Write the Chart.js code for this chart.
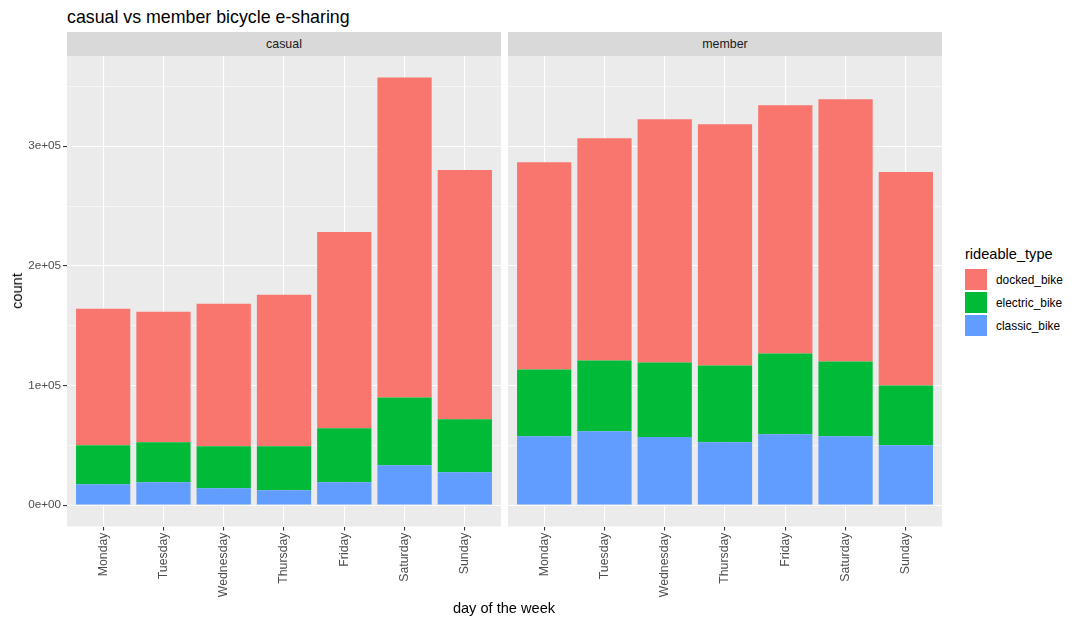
<!DOCTYPE html>
<html>
<head>
<meta charset="utf-8">
<script src="https://cdn.jsdelivr.net/npm/chart.js@4.4.1/dist/chart.umd.min.js"></script>
<style>
  body { margin: 0; background: #fff; font-family: "Liberation Sans", Arial, sans-serif; }
  #wrap { position: relative; width: 1080px; height: 625px; overflow: hidden; }
  .abs { position: absolute; }
  .strip { background: #D9D9D9; color: #1A1A1A; font-size: 12.4px; text-align: center; line-height: 24px; height: 24px; top: 32px; }
  .key { width: 22px; height: 21px; left: 965px; }
  .klab { left: 996px; font-size: 11.9px; color: #000; line-height: 14px; }
</style>
</head>
<body>
<div id="wrap">
  <div class="abs" style="left:67px;top:7px;font-size:17.8px;color:#000;">casual vs member bicycle e-sharing</div>
  <div class="abs strip" style="left:67px;width:434px;">casual</div>
  <div class="abs strip" style="left:508px;width:434px;">member</div>

  <div class="abs" style="left:0;top:56px;width:501px;height:569px;"><canvas id="casualChart"></canvas></div>
  <div class="abs" style="left:508px;top:56px;width:434px;height:569px;"><canvas id="memberChart"></canvas></div>

  <div class="abs" style="left:17px;top:291px;font-size:14.6px;color:#000;transform:translate(-50%,-50%) rotate(-90deg);white-space:nowrap;">count</div>
  <div class="abs" style="left:504px;top:600px;font-size:14.6px;color:#000;transform:translateX(-50%);white-space:nowrap;">day of the week</div>

  <div class="abs" style="left:965px;top:246px;font-size:14.6px;color:#000;">rideable_type</div>
  <div id="legend"></div>
</div>

<script>
const days = ['Monday', 'Tuesday', 'Wednesday', 'Thursday', 'Friday', 'Saturday', 'Sunday'];

// stacked totals, split per rideable type
const casualClassic  = [17500, 19167, 14167, 12500, 19167, 33333, 27500];
const casualElectric = [32500, 33333, 35000, 36667, 45000, 56667, 44167];
const casualDocked   = [114167, 109167, 119167, 126667, 164167, 267500, 208333];

const memberClassic  = [57500, 61667, 56944, 52500, 59167, 57500, 50000];
const memberElectric = [55833, 59166, 62223, 64167, 67500, 62500, 50000];
const memberDocked   = [173334, 185834, 203333, 201666, 207500, 219167, 178333];

const yTickValues = [0, 100000, 200000, 300000];
const yTickLabels = ['0e+00', '1e+05', '2e+05', '3e+05'];

const rideTypes = ['docked_bike', 'electric_bike', 'classic_bike'];
const colors = { docked_bike: '#F8766D', electric_bike: '#00BA38', classic_bike: '#619CFF' };

// shared y range, ggplot style 5% expansion
const totals = days.map((d, i) => Math.max(
    casualClassic[i] + casualElectric[i] + casualDocked[i],
    memberClassic[i] + memberElectric[i] + memberDocked[i]));
const yMax = Math.max(...totals);

const panelBg = {
    id: 'panelBg',
    beforeDraw(chart) {
        const a = chart.chartArea;
        const ctx = chart.ctx;
        ctx.save();
        ctx.fillStyle = '#EBEBEB';
        ctx.fillRect(a.left, a.top, a.right - a.left, a.bottom - a.top);
        ctx.restore();
    }
};

function toPoints(arr) {
    return arr.map((v, i) => ({ x: i, y: v }));
}

function noPad(s) {
    s.paddingTop = 0;
    s.paddingBottom = 0;
    s.paddingLeft = 0;
    s.paddingRight = 0;
}

function makeChart(id, classic, electric, docked, showY) {
    const ctx = document.getElementById(id).getContext('2d');
    const datasets = [
        { label: 'classic_bike', data: toPoints(classic), backgroundColor: colors.classic_bike },
        { label: 'electric_bike', data: toPoints(electric), backgroundColor: colors.electric_bike },
        { label: 'docked_bike', data: toPoints(docked), backgroundColor: colors.docked_bike }
    ].map(ds => Object.assign(ds, { barPercentage: 0.9, categoryPercentage: 1.0, borderWidth: 0 }));

    return new Chart(ctx, {
        type: 'bar',
        data: { datasets },
        plugins: [panelBg],
        options: {
            responsive: true,
            maintainAspectRatio: false,
            animation: false,
            layout: { padding: 0 },
            plugins: { legend: { display: false }, tooltip: { enabled: false } },
            scales: {
                x: {
                    type: 'linear',
                    stacked: true,
                    offset: false,
                    min: -0.6,
                    max: 6.6,
                    afterBuildTicks: s => { s.ticks = days.map((d, i) => ({ value: i })); },
                    afterFit: s => { s.height = 569 - 470.5; noPad(s); },
                    border: { display: false },
                    grid: { offset: false, color: '#FFFFFF', lineWidth: 1.1, tickColor: '#333333', tickLength: 4 },
                    ticks: {
                        autoSkip: false,
                        minRotation: 90,
                        maxRotation: 90,
                        padding: 2,
                        color: '#4D4D4D',
                        font: { family: 'Liberation Sans', size: 12.3 },
                        callback: v => days[v]
                    }
                },
                y: {
                    stacked: true,
                    min: -yMax * 0.05,
                    max: yMax * 1.05,
                    afterBuildTicks: s => {
                        const t = [];
                        for (let v = 0; v <= yMax; v += 50000) t.push({ value: v });
                        s.ticks = t;
                    },
                    afterFit: s => { s.width = showY ? 67 : 0; noPad(s); },
                    border: { display: false },
                    grid: {
                        color: '#FFFFFF',
                        lineWidth: c => (c.tick && c.tick.value % 100000 === 0) ? 1.1 : 0.55,
                        drawTicks: showY,
                        tickLength: 4,
                        tickColor: c => (c.tick && c.tick.value % 100000 === 0) ? '#333333' : 'rgba(0,0,0,0)'
                    },
                    ticks: {
                        display: showY,
                        padding: 2,
                        color: '#4D4D4D',
                        font: { family: 'Liberation Sans', size: 11.7 },
                        callback: v => {
                            const k = yTickValues.indexOf(v);
                            return k >= 0 ? yTickLabels[k] : '';
                        }
                    }
                }
            }
        }
    });
}

makeChart('casualChart', casualClassic, casualElectric, casualDocked, true);
makeChart('memberChart', memberClassic, memberElectric, memberDocked, false);

// legend keys
const legend = document.getElementById('legend');
rideTypes.forEach((t, i) => {
    const key = document.createElement('div');
    key.className = 'abs key';
    key.style.top = (269 + i * 23) + 'px';
    key.style.background = colors[t];
    legend.appendChild(key);
    const lab = document.createElement('div');
    lab.className = 'abs klab';
    lab.style.top = (273 + i * 23) + 'px';
    lab.textContent = t;
    legend.appendChild(lab);
});
</script>
</body>
</html>
